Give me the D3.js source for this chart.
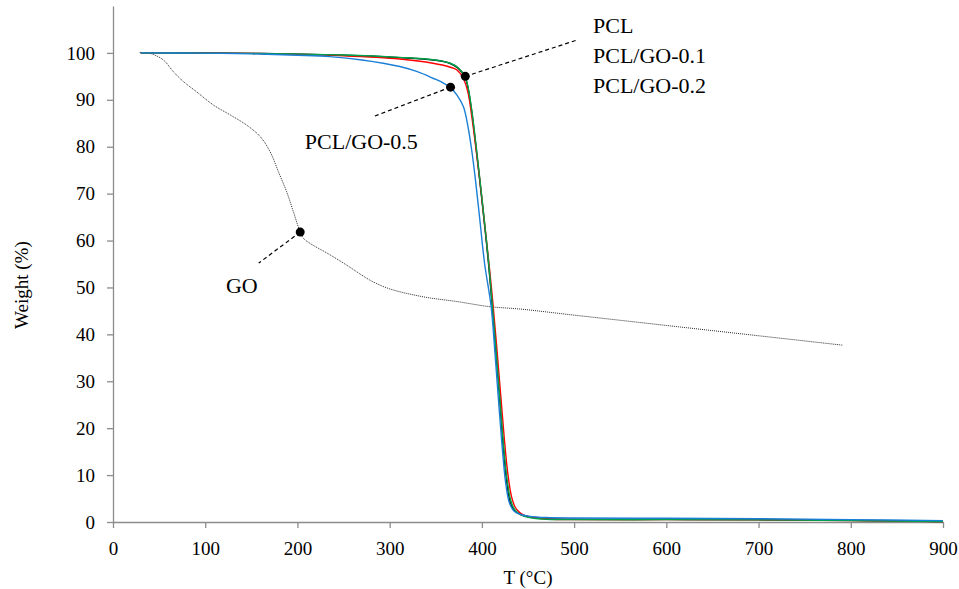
<!DOCTYPE html>
<html>
<head>
<meta charset="utf-8">
<script src="https://cdn.jsdelivr.net/npm/d3@7"></script>
<style>
	body { margin: 0; background: #fff; }
	text { font-family: "Liberation Serif", "DejaVu Serif", serif; fill: #000; }
	.axis path, .axis line { stroke: #8c8c8c; stroke-width: 1.3; }
	.axis text { font-size: 19px; }
</style>
</head>
<body>
<div id="containerChart"></div>
<script>
// TGA curves: temperature (°C) and weight (%)
var tPCL   = [30, 150, 250, 311, 347, 365, 374.5, 381.7, 385, 389, 393, 397, 402, 407, 411, 415, 419, 423, 427, 431, 435, 442, 452, 470, 500, 600, 700, 800, 900];
var wPCL   = [100, 99.9, 99.5, 99.0, 98.5, 97.8, 96.7, 94.9, 92.5, 87.5, 81, 74, 65, 55.5, 46.5, 37, 27, 16.5, 8.5, 4.0, 2.5, 1.6, 1.1, 0.7, 0.6, 0.55, 0.5, 0.35, 0.1];

var tPCL01 = [30, 150, 250, 311, 347, 365, 374.5, 381.7, 385, 389, 393, 397, 402, 407, 411, 415, 419, 423, 427, 431, 435, 440, 446, 456, 470, 500, 600, 700, 800, 900];
var wPCL01 = [100, 99.9, 99.55, 99.05, 98.55, 97.85, 96.8, 95.0, 92.7, 87.8, 81.5, 74.5, 65.5, 56, 47, 37.5, 27.5, 17.5, 9.5, 4.8, 2.8, 1.8, 1.2, 0.8, 0.6, 0.5, 0.5, 0.45, 0.3, 0.1];

var tPCL02 = [30, 150, 250, 311, 347, 365, 372.7, 380, 385, 389, 393, 398, 403, 408, 412, 416, 420, 424, 428, 432, 436, 441, 447, 457, 470, 500, 600, 700, 800, 900];
var wPCL02 = [100, 99.9, 99.4, 98.7, 97.8, 97.0, 96.4, 94.5, 91.5, 86.5, 80.5, 72.5, 63.5, 54.5, 46.5, 37.5, 28, 18.5, 10.5, 5.5, 3.2, 2.0, 1.3, 0.9, 0.65, 0.5, 0.5, 0.45, 0.3, 0.1];

var tPCL05 = [30, 100, 150, 200, 235, 270, 311, 330, 347, 357, 366, 373, 380, 385, 389, 393, 398, 403, 410, 414, 418, 422, 426, 430, 435, 442, 452, 470, 500, 600, 700, 800, 900];
var wPCL05 = [100, 99.95, 99.8, 99.5, 99.2, 98.5, 97.1, 96.0, 94.6, 93.7, 92.6, 91.0, 88.5, 84.2, 79.2, 73, 64, 55, 46, 36.5, 26, 16, 8, 4, 2.3, 1.6, 1.2, 0.95, 0.85, 0.8, 0.7, 0.5, 0.3];

var tGO = [29, 40, 54.6, 65.4, 76.3, 90.7, 108.8, 126.9, 145, 159.4, 170.2, 179.3, 188.3, 195.5, 202.8, 206.4, 213.6, 235, 257, 270, 282, 300, 336.5, 372.7, 408.8, 441.3, 500, 600, 700, 791];
var wGO = [100.1, 99.9, 98.5, 96.0, 93.9, 91.7, 88.9, 86.8, 84.6, 82.2, 79.0, 74.7, 70.4, 66.2, 61.9, 60.5, 59.4, 57.0, 54.3, 52.6, 51.2, 49.7, 48.0, 47.0, 45.9, 45.4, 44.1, 41.9, 39.7, 37.7];

var seriesNames  = ["GO", "PCL", "PCL/GO-0.2", "PCL/GO-0.1", "PCL/GO-0.5"];
var seriesColors = ["#2b2b2b", "#000000", "#ff0000", "#00a04a", "#1a7fd6"];

var xTicks = [0, 100, 200, 300, 400, 500, 600, 700, 800, 900];
var yTicks = [0, 10, 20, 30, 40, 50, 60, 70, 80, 90, 100];

// marked points, leader line ends and label anchors (°C, %)
var markT   = [382, 366, 203];
var markW   = [95.0, 92.7, 61.8];
var leadT   = [504, 282, 158];
var leadW   = [102.8, 86.4, 55.2];
var labelText = ["PCL", "PCL/GO-0.1", "PCL/GO-0.2", "PCL/GO-0.5", "GO"];
var labelT    = [520.5, 520.5, 520.5, 208, 122.5];
var labelW    = [104.3, 97.9, 91.5, 79.5, 48.8];

function drawChart() {

	var width = 959;
	var height = 589;
	var margin = {left: 113, top: 6, right: 16, bottom: 67};

	var xScale = d3.scaleLinear()
		.domain([0, 900])
		.range([margin.left, width - margin.right]);
	var yScale = d3.scaleLinear()
		.domain([0, 110])
		.range([height - margin.bottom, margin.top]);

	var svg = d3.select("#containerChart")
		.append("svg")
		.attr("width", width)
		.attr("height", height);

	// axes
	svg.append("g")
		.attr("class", "axis")
		.attr("transform", "translate(0," + yScale(0) + ")")
		.call(d3.axisBottom(xScale).tickValues(xTicks).tickSize(6).tickSizeOuter(0).tickPadding(14))
		.selectAll("text")
		.attr("dy", "0.71em");
	svg.append("g")
		.attr("class", "axis")
		.attr("transform", "translate(" + margin.left + ",0)")
		.call(d3.axisLeft(yScale).tickValues(yTicks).tickSize(6).tickSizeOuter(0).tickPadding(12));

	// axis titles
	svg.append("text")
		.attr("x", (xScale(0) + xScale(900)) / 2)
		.attr("y", 584)
		.style("text-anchor", "middle")
		.style("font-size", "19px")
		.text("T (°C)");
	svg.append("text")
		.attr("transform", "rotate(-90)")
		.attr("x", -yScale(50.5))
		.attr("y", 28)
		.style("text-anchor", "middle")
		.style("font-size", "19px")
		.text("Weight (%)");

	// curves
	var allT = [tGO, tPCL, tPCL02, tPCL01, tPCL05];
	var allW = [wGO, wPCL, wPCL02, wPCL01, wPCL05];

	var line = d3.line()
		.x(function(d) { return xScale(d[0]); })
		.y(function(d) { return yScale(d[1]); })
		.curve(d3.curveCatmullRom.alpha(0.5));

	for (var s = 0; s < allT.length; s ++) {
		var pts = allT[s].map(function(t, i) { return [t, allW[s][i]]; });
		svg.append("path")
			.datum(pts)
			.attr("fill", "none")
			.attr("stroke", seriesColors[s])
			.attr("stroke-width", s == 0 ? 1 : 1.4)
			.attr("stroke-dasharray", s == 0 ? "1,1" : null)
			.attr("d", line);
	};

	// leader lines and dots
	for (var i = 0; i < markT.length; i ++) {
		svg.append("line")
			.attr("x1", xScale(markT[i]))
			.attr("y1", yScale(markW[i]))
			.attr("x2", xScale(leadT[i]))
			.attr("y2", yScale(leadW[i]))
			.attr("stroke", "#000")
			.attr("stroke-width", 1.2)
			.attr("stroke-dasharray", "4,3");
		svg.append("circle")
			.attr("cx", xScale(markT[i]))
			.attr("cy", yScale(markW[i]))
			.attr("r", 4.5)
			.attr("fill", "#000");
	};

	// labels
	for (var i = 0; i < labelText.length; i ++) {
		svg.append("text")
			.attr("x", xScale(labelT[i]))
			.attr("y", yScale(labelW[i]))
			.style("font-size", "22px")
			.text(labelText[i]);
	};
};

drawChart();
</script>
</body>
</html>
